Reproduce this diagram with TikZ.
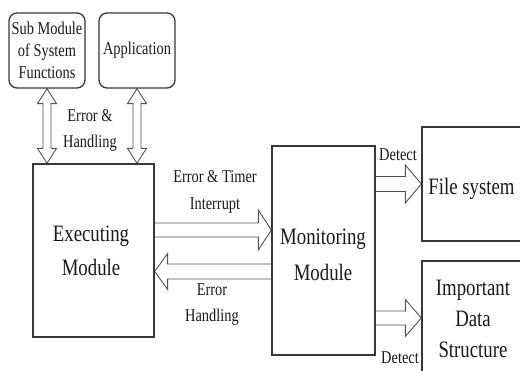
\documentclass[tikz,border=0pt]{standalone}
\usepackage{fontspec}
\setmainfont{Liberation Serif}[FakeStretch=0.8]
\usetikzlibrary{calc,backgrounds}

\tikzset{
  box/.style={draw=black!78, line width=1.3pt, inner sep=0pt, align=center,
              text=black!90, font=\fontsize{23.5}{35}\selectfont},
  rbox/.style={box, rounded corners=8pt, font=\fontsize{18}{22}\selectfont},
  lbl/.style={text=black!90, align=center, inner sep=0pt},
  blk/.style={draw=black!68, line width=0.9pt, fill=white, line join=miter},
}

% one-headed block arrow: tail, tip, shaft half width, head half width, head length
\newcommand\blockarrow[5]{%
  \path ($(#2)!#5!(#1)$) coordinate (hb);
  \draw[blk] ($(#1)!#3!90:(#2)$) -- ($(hb)!#3!-90:(#1)$) -- ($(hb)!#4!-90:(#1)$)
    -- (#2) -- ($(hb)!#4!90:(#1)$) -- ($(hb)!#3!90:(#1)$) -- ($(#1)!#3!-90:(#2)$);
}
% two-headed block arrow: end A, end B, shaft half width, head half width, head length
\newcommand\twowayarrow[5]{%
  \path ($(#1)!#5!(#2)$) coordinate (ha) ($(#2)!#5!(#1)$) coordinate (hb);
  \draw[blk] (#1) -- ($(ha)!#4!90:(#2)$) -- ($(ha)!#3!90:(#2)$)
    -- ($(hb)!#3!-90:(#1)$) -- ($(hb)!#4!-90:(#1)$) -- (#2)
    -- ($(hb)!#4!90:(#1)$) -- ($(hb)!#3!90:(#1)$)
    -- ($(ha)!#3!-90:(#2)$) -- ($(ha)!#4!-90:(#2)$) -- cycle;
}

\begin{document}
\begin{tikzpicture}[x=1pt, y=-1pt]
  \useasboundingbox (0,0) rectangle (520,371);

  % boxes
  \node[rbox, minimum width=76pt, minimum height=75pt] (sub) at (47,50.5)
    {Sub Module\\of System\\Functions};
  \node[rbox, minimum width=76pt, minimum height=75pt] (app) at (137,50.5)
    {Application};
  \node[box, minimum width=121pt, minimum height=173pt] (exec) at (93.5,250.5) {};
  \node[box, minimum width=103pt, minimum height=209pt] (mon) at (323.5,250.5) {};
  \node[box, minimum width=102pt, minimum height=114pt] (fs) at (473,184) {};
  \node[box, minimum width=102pt, minimum height=119pt] (ids) at (473,320.5) {};

  % box texts
  \node[lbl, font=\fontsize{23.5}{34}\selectfont] (exectext) at (91,251)
    {Executing\\Module};
  \node[lbl, font=\fontsize{23.5}{36}\selectfont] (montext) at (323,255)
    {Monitoring\\Module};
  \node[lbl, font=\fontsize{23.5}{35}\selectfont] (fstext) at (471.5,189) {File system};
  \node[lbl, font=\fontsize{23.5}{31}\selectfont] (idstext) at (473,319)
    {Important\\Data\\Structure};

  % arrow labels
  \node[lbl, font=\fontsize{18}{26}\selectfont] (eh) at (90,130) {Error \&\\Handling};
  \node[lbl, font=\fontsize{18}{27}\selectfont] (eti) at (215,191.5)
    {Error \& Timer\\Interrupt};
  \node[lbl, font=\fontsize{18}{26}\selectfont] (erh) at (212,305) {Error\\Handling};
  \node[lbl, font=\fontsize{18}{22}\selectfont] (d1) at (398,155) {Detect};
  \node[lbl, font=\fontsize{18}{22}\selectfont] (d2) at (400,358) {Detect};

  % arrow end points on the box borders
  \coordinate (s1) at (sub.south |- exec.north);
  \coordinate (a1) at (app.south |- exec.north);
  \coordinate (r0) at ($(exec.east)+(0,-20.5)$);
  \coordinate (r1) at (mon.west |- r0);
  \coordinate (l0) at ($(mon.west)+(0,21)$);
  \coordinate (l1) at (exec.east |- l0);
  \coordinate (f0) at (mon.east |- fs.west);
  \coordinate (i0) at ($(mon.east)+(0,67.5)$);
  \coordinate (i1) at (ids.west |- i0);

  \begin{pgfonlayer}{background}
    \twowayarrow{sub.south}{s1}{4pt}{9.5pt}{15pt}
    \twowayarrow{app.south}{a1}{4pt}{9.5pt}{15pt}
    \blockarrow{r0}{r1}{7pt}{20pt}{13pt}
    \blockarrow{l0}{l1}{7.5pt}{18pt}{13pt}
    \blockarrow{f0}{fs.west}{7.5pt}{19pt}{16pt}
    \blockarrow{i0}{i1}{7pt}{18.5pt}{16pt}
  \end{pgfonlayer}
\end{tikzpicture}
\end{document}
